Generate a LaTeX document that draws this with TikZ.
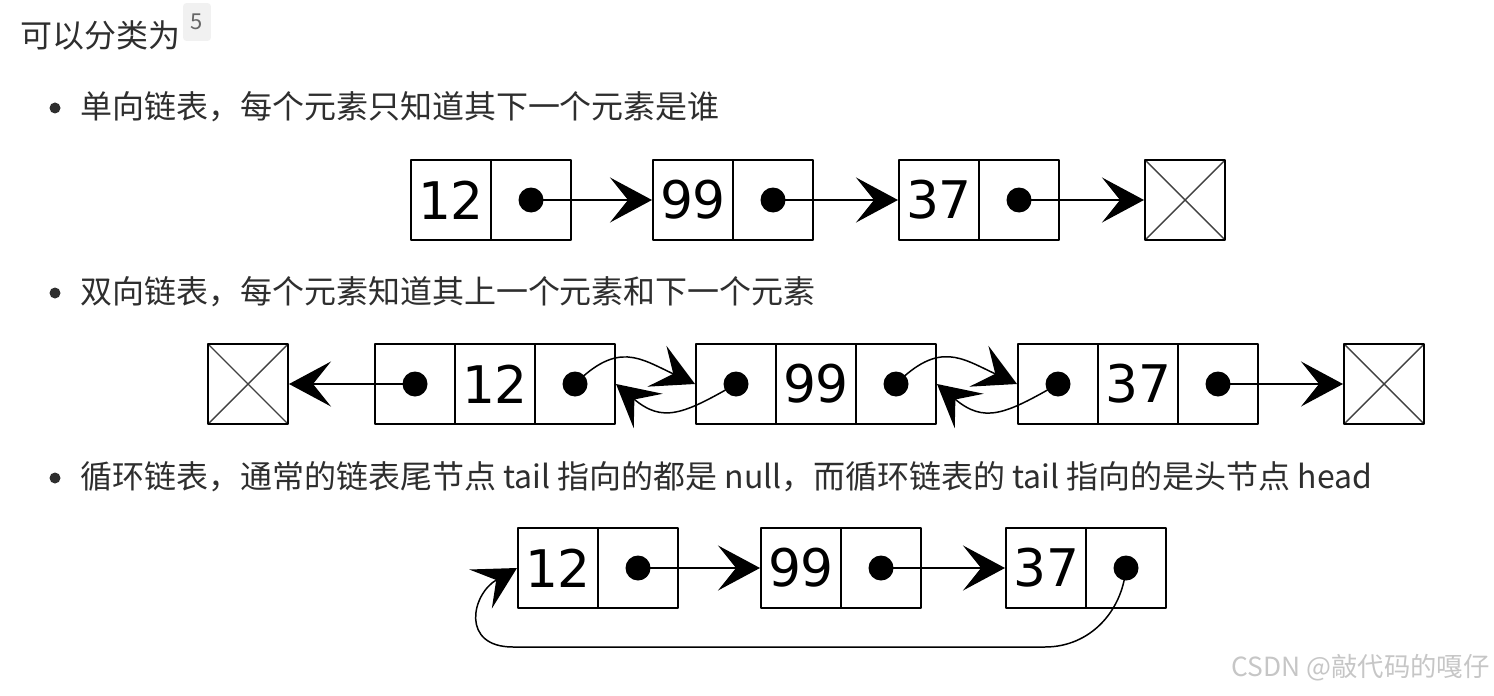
\documentclass[tikz,border=0pt]{standalone}
\usepackage{fontspec}
\setmainfont{Noto Sans CJK SC}
\newfontfamily\numfont{DejaVu Sans}
\usepackage{xcolor}
\usetikzlibrary{arrows.meta}
\definecolor{txtgray}{HTML}{2E2E2E}
\definecolor{supgray}{HTML}{F1F1F1}
\definecolor{markgray}{HTML}{C6C6C6}

\begin{document}
\begin{tikzpicture}[x=0.02cm, y=0.02cm, >={Stealth[length=0.84cm,width=0.9cm,inset=0.36cm]}, line join=round,
  cell/.style={draw, line width=1.15pt, minimum width=1.6cm, minimum height=1.6cm, inner sep=0pt,
    font=\numfont\fontsize{29.5}{30}\selectfont},
  nullcell/.style={cell, path picture={
    \draw[line width=0.8pt, black!75] (path picture bounding box.south west) -- (path picture bounding box.north east)
      (path picture bounding box.north west) -- (path picture bounding box.south east);}},
  ptr/.style={->, line width=0.85pt},
  bullettext/.style={anchor=west, inner sep=0pt, text=txtgray, font=\fontsize{18.2}{22}\selectfont}]
  \useasboundingbox (0,0) rectangle (1494,-696);
  % heading
  \node[bullettext] (title) at (20,-35) {可以分类为};
  \node[fill=supgray, rounded corners=2pt, minimum width=0.56cm, minimum height=0.76cm, inner sep=0pt,
    text=black!60, font=\fontsize{12.5}{13}\selectfont] (sup) at (197,-22) {5};
  \fill[txtgray] (55,-108) circle (5.5);
  \fill[txtgray] (55,-293) circle (5.5);
  \fill[txtgray] (55,-478) circle (5.5);
  \node[bullettext] (t1) at (80,-107) {单向链表，每个元素只知道其下一个元素是谁};
  \node[bullettext] (t2) at (80,-292) {双向链表，每个元素知道其上一个元素和下一个元素};
  \node[bullettext] (t3) at (80,-477) {循环链表，通常的链表尾节点 tail 指向的都是 null，而循环链表的 tail 指向的是头节点 head};
  % singly linked
  \node[cell] (S1) at (451,-200) {12};
  \node[cell] (P1) at (531,-200) {};
  \node[cell] (S2) at (693,-200) {99};
  \node[cell] (P2) at (773,-200) {};
  \node[cell] (S3) at (939,-200) {37};
  \node[cell] (P3) at (1019,-200) {};
  \node[nullcell] (SN) at (1185,-200) {};
  \fill (P1.center) circle (12.5);
  \fill (P2.center) circle (12.5);
  \fill (P3.center) circle (12.5);
  \draw[ptr] (P1.center) -- (S2.west);
  \draw[ptr] (P2.center) -- (S3.west);
  \draw[ptr] (P3.center) -- (SN.west);
  % doubly linked
  \node[nullcell] (DL) at (248,-384) {};
  \node[cell] (L1) at (415,-384) {};
  \node[cell] (D1) at (495,-384) {12};
  \node[cell] (R1) at (575,-384) {};
  \node[cell] (L2) at (736,-384) {};
  \node[cell] (D2) at (816,-384) {99};
  \node[cell] (R2) at (896,-384) {};
  \node[cell] (L3) at (1058,-384) {};
  \node[cell] (D3) at (1138,-384) {37};
  \node[cell] (R3) at (1218,-384) {};
  \node[nullcell] (DR) at (1384,-384) {};
  \fill (L1.center) circle (12.5);
  \fill (R1.center) circle (12.5);
  \fill (L2.center) circle (12.5);
  \fill (R2.center) circle (12.5);
  \fill (L3.center) circle (12.5);
  \fill (R3.center) circle (12.5);
  \draw[ptr] (L1.center) -- (DL.east);
  \draw[ptr] (R1.center) to[out=45,in=155,looseness=1.3] (L2.west);
  \draw[ptr] (L2.center) to[out=210,in=-40,looseness=1.3] (R1.east);
  \draw[ptr] (R2.center) to[out=45,in=155,looseness=1.3] (L3.west);
  \draw[ptr] (L3.center) to[out=210,in=-40,looseness=1.3] (R2.east);
  \draw[ptr] (R3.center) -- (DR.west);
  % circular
  \node[cell] (C1) at (558,-568) {12};
  \node[cell] (Q1) at (638,-568) {};
  \node[cell] (C2) at (801,-568) {99};
  \node[cell] (Q2) at (881,-568) {};
  \node[cell] (C3) at (1046,-568) {37};
  \node[cell] (Q3) at (1126,-568) {};
  \fill (Q1.center) circle (12.5);
  \fill (Q2.center) circle (12.5);
  \fill (Q3.center) circle (12.5);
  \coordinate (B1) at (513,-647);
  \coordinate (B2) at (1045,-647);
  \draw[ptr] (Q1.center) -- (C2.west);
  \draw[ptr] (Q2.center) -- (C3.west);
  \draw[ptr] (Q3.center) to[out=-95,in=0] (B2) -- (B1) to[out=180,in=210,looseness=1.7] (C1.west);
  \node[anchor=east, inner sep=0pt, text=markgray, font=\fontsize{15}{16}\selectfont] (mark) at (1490,-668) {CSDN @敲代码的嘎仔};
\end{tikzpicture}
\end{document}
